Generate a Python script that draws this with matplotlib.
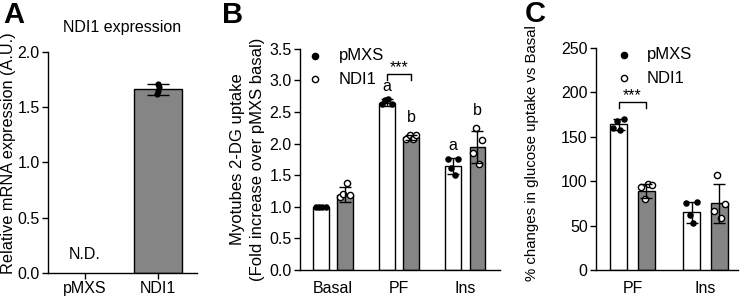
import matplotlib
matplotlib.use("Agg")
import matplotlib.pyplot as plt
import numpy as np

plt.rcParams['font.family'] = ['Liberation Sans', 'DejaVu Sans']
plt.rcParams['font.size'] = 11.5

# ---------------- data ----------------
# Panel A
a_categories = ["pMXS", "NDI1"]
a_mean = [0.0, 1.66]
a_sd = [0.0, 0.05]
a_points_ndi1 = [1.62, 1.65, 1.68, 1.71]

# Panel B
b_categories = ["Basal", "PF", "Ins"]
b_pmxs_mean = [1.00, 2.65, 1.65]
b_pmxs_sd = [0.0, 0.05, 0.13]
b_ndi1_mean = [1.19, 2.10, 1.95]
b_ndi1_sd = [0.12, 0.04, 0.25]
b_pmxs_points = [[1.0, 1.0, 1.0, 1.0], [2.62, 2.69, 2.70, 2.62], [1.75, 1.62, 1.50, 1.75]]
b_ndi1_points = [[1.15, 1.20, 1.37, 1.18], [2.08, 2.13, 2.07, 2.14], [1.85, 2.25, 1.68, 2.05]]
b_letters_pmxs = ["", "a", "a"]
b_letters_ndi1 = ["", "b", "b"]

# Panel C
c_categories = ["PF", "Ins"]
c_pmxs_mean = [164, 65]
c_pmxs_sd = [6, 12]
c_ndi1_mean = [89, 75]
c_ndi1_sd = [8, 22]
c_pmxs_points = [[160, 168, 158, 170], [76, 62, 53, 77]]
c_ndi1_points = [[94, 80, 97, 96], [67, 107, 58, 74]]

WHITE = "white"
GREY = "#858585"
TICK_FS = 11.5
LABEL_FS = 12

fig = plt.figure(figsize=(7.45, 3.0), dpi=100)

jit = np.array([-0.075, -0.025, 0.025, 0.075])

def style(ax):
    for s in ["top", "right"]:
        ax.spines[s].set_visible(False)
    ax.spines["left"].set_linewidth(1.0)
    ax.spines["bottom"].set_linewidth(1.0)
    ax.tick_params(axis="both", labelsize=TICK_FS, width=1.0, length=4, pad=2)

def bars_with_points(ax, x, means, sds, pts, color, filled, w):
    ax.bar(x, means, width=w, color=color, edgecolor="black", linewidth=1.0, zorder=2)
    for xi, m, s, p in zip(x, means, sds, pts):
        xs = xi + jit * (w / 0.24)
        if filled:
            ax.scatter(xs, p, s=22, color="black", zorder=4, linewidths=0)
        else:
            ax.scatter(xs, p, s=20, facecolor="white", edgecolor="black", linewidths=1.0, zorder=4)
        ax.errorbar(xi, m, yerr=s, color="black", capsize=4, elinewidth=1.0, capthick=1.0, zorder=5, fmt="none")

def legend(ax, x):
    ax.scatter([], [], s=20, color="black", label="pMXS")
    ax.scatter([], [], s=20, facecolor="white", edgecolor="black", linewidths=1.0, label="NDI1")
    ax.legend(loc="upper left", bbox_to_anchor=(x, 1.07), frameon=False, fontsize=LABEL_FS,
              handletextpad=0.9, labelspacing=0.5, handlelength=1.0)

# ---------------- Panel A ----------------
axA = fig.add_axes([0.0644, 0.09, 0.2, 0.737])
style(axA)
xa = np.arange(len(a_categories))
axA.bar(xa[1], a_mean[1], width=0.66, color=GREY, edgecolor="black", linewidth=1.0, zorder=2)
axA.scatter(xa[1] + np.array([-0.01, 0.0, 0.01, 0.0]), a_points_ndi1, s=20, color="black", zorder=4, linewidths=0)
axA.errorbar(xa[1], a_mean[1], yerr=a_sd[1], color="black", capsize=8, elinewidth=1.0, capthick=1.0, fmt="none", zorder=5)
axA.text(xa[0], 0.1, "N.D.", ha="center", va="bottom", fontsize=TICK_FS)
axA.set_xlim(-0.507, 1.53)
axA.set_ylim(0, 2.0)
axA.set_yticks([0.0, 0.5, 1.0, 1.5, 2.0])
axA.set_yticklabels(["0.0", "0.5", "1.0", "1.5", "2.0"])
axA.set_xticks(xa)
axA.set_xticklabels(a_categories)
axA.set_ylabel("Relative mRNA expression (A.U.)", fontsize=11.7)
axA.yaxis.set_label_coords(-0.215, 0.54)
axA.set_title("NDI1 expression", fontsize=TICK_FS, pad=14)
fig.text(0.005, 0.95, "A", fontsize=21, fontweight="bold", va="center")

# ---------------- Panel B ----------------
axB = fig.add_axes([0.4027, 0.1, 0.268, 0.737])
style(axB)
xb = np.arange(len(b_categories))
off = 0.185
wb = 0.24
bars_with_points(axB, xb - off, b_pmxs_mean, b_pmxs_sd, b_pmxs_points, WHITE, True, wb)
bars_with_points(axB, xb + off, b_ndi1_mean, b_ndi1_sd, b_ndi1_points, GREY, False, wb)
for i in range(len(b_categories)):
    if b_letters_pmxs[i]:
        top = max(b_pmxs_mean[i] + b_pmxs_sd[i], max(b_pmxs_points[i]))
        axB.text(xb[i] - off, top + 0.08, b_letters_pmxs[i], ha="center", va="bottom", fontsize=TICK_FS)
    if b_letters_ndi1[i]:
        top = max(b_ndi1_mean[i] + b_ndi1_sd[i], max(b_ndi1_points[i]))
        axB.text(xb[i] + off, top + 0.16, b_letters_ndi1[i], ha="center", va="bottom", fontsize=TICK_FS)
# significance bracket PF
yb = 3.1
axB.plot([xb[1] - off, xb[1] - off, xb[1] + off, xb[1] + off], [yb - 0.1, yb, yb, yb - 0.1], color="black", lw=1.0)
axB.text(xb[1], yb - 0.02, "***", ha="center", va="bottom", fontsize=TICK_FS)
axB.set_xlim(-0.496, 2.52)
axB.set_ylim(0, 3.5)
axB.set_yticks(np.arange(0, 3.51, 0.5))
axB.set_yticklabels([f"{v:.1f}" for v in np.arange(0, 3.51, 0.5)])
axB.set_xticks(xb)
axB.set_xticklabels(b_categories)
axB.tick_params(axis="x", length=0, pad=8)
axB.set_ylabel("Myotubes 2-DG uptake\n(Fold increase over pMXS basal)", fontsize=LABEL_FS,
               labelpad=3, linespacing=1.45)
legend(axB, -0.04)
fig.text(0.298, 0.95, "B", fontsize=21, fontweight="bold", va="center")

# ---------------- Panel C ----------------
axC = fig.add_axes([0.8, 0.1, 0.191, 0.74])
style(axC)
xc = np.arange(len(c_categories))
offc = 0.19
bars_with_points(axC, xc - offc, c_pmxs_mean, c_pmxs_sd, c_pmxs_points, WHITE, True, 0.24)
bars_with_points(axC, xc + offc, c_ndi1_mean, c_ndi1_sd, c_ndi1_points, GREY, False, 0.24)
yc = 189
axC.plot([xc[0] - offc, xc[0] - offc, xc[0] + offc, xc[0] + offc], [yc - 7, yc, yc, yc - 7], color="black", lw=1.0)
axC.text(xc[0], yc - 1, "***", ha="center", va="bottom", fontsize=TICK_FS)
axC.set_xlim(-0.5, 1.45)
axC.set_ylim(0, 250)
axC.set_yticks([0, 50, 100, 150, 200, 250])
axC.set_xticks(xc)
axC.set_xticklabels(c_categories)
axC.tick_params(axis="x", length=0, pad=8)
axC.set_ylabel("% changes in glucose uptake vs Basal", fontsize=10.8)
axC.yaxis.set_label_coords(-0.40, 0.525)
legend(axC, 0.03)
fig.text(0.705, 0.955, "C", fontsize=21, fontweight="bold", va="center")

fig.savefig("out.png", dpi=100)
